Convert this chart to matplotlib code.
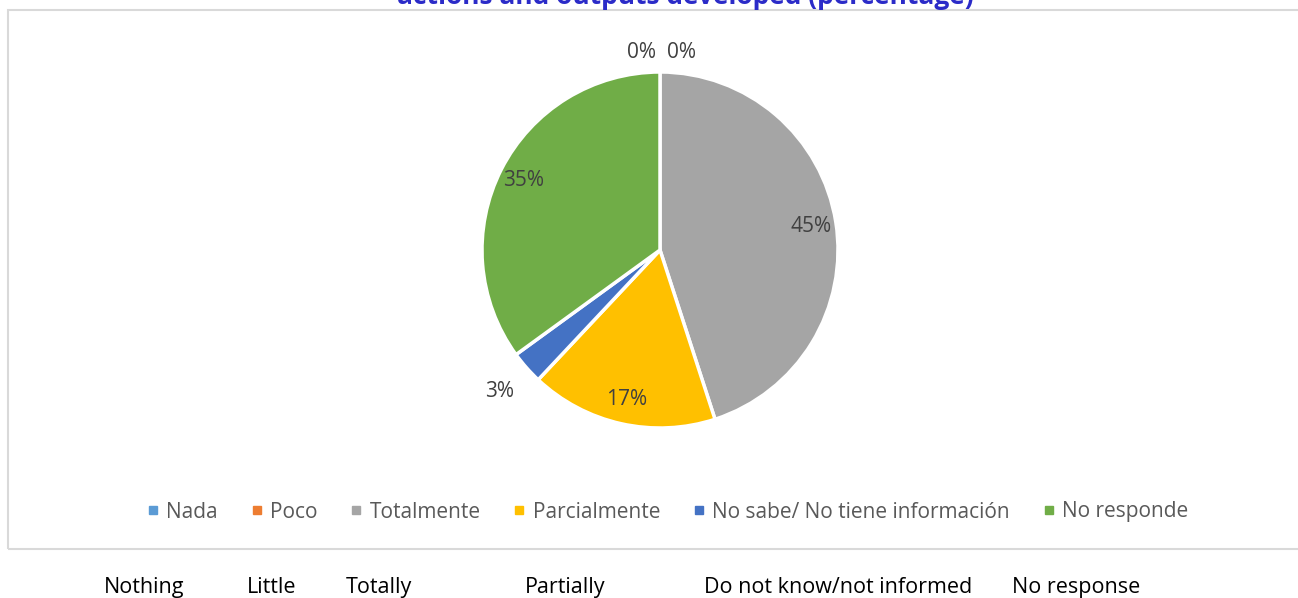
import matplotlib.pyplot as plt
import numpy as np
from matplotlib.patches import Rectangle
from matplotlib.lines import Line2D

plt.rcParams['font.family'] = ['Open Sans', 'DejaVu Sans']

# survey answers (percentage)
categories = ['Nada', 'Poco', 'Totalmente', 'Parcialmente',
              'No sabe/ No tiene información', 'No responde']
english_labels = ['Nothing', 'Little', 'Totally', 'Partially',
                  'Do not know/not informed', 'No response']
values = [0, 0, 45, 17, 3, 35]
colors = ['#5B9BD5', '#ED7D31', '#A5A5A5', '#FFC000', '#4472C4', '#70AD47']
title = 'actions and outputs developed (percentage)'

W, H = 1298, 598
fig = plt.figure(figsize=(W / 100, H / 100), dpi=100)
ax = fig.add_axes([0, 0, 1, 1])

cx, cy, r = 660, H - 250, 178
wedges, _ = ax.pie(values, colors=colors, startangle=90, counterclock=False,
                   center=(cx, cy), radius=r,
                   wedgeprops=dict(edgecolor='white', linewidth=2.5))
ax.set_xlim(0, W)
ax.set_ylim(0, H)
ax.set_aspect('equal')
ax.axis('off')

# data labels: inside near the edge, outside for thin slices
zero_shift = [-18, 22]
k = 0
for w, v in zip(wedges, values):
    ang = np.deg2rad((w.theta1 + w.theta2) / 2)
    if v == 0:
        x = cx + zero_shift[k]
        y = cy + r + 20
        k += 1
    elif v < 5:
        x = cx + 1.2 * r * np.cos(ang)
        y = cy + 1.2 * r * np.sin(ang)
    else:
        x = cx + 0.86 * r * np.cos(ang)
        y = cy + 0.86 * r * np.sin(ang)
    ax.text(x, y, f'{v}%', ha='center', va='center', fontsize=15,
            color='#404040')

# chart frame
fig.patches.append(Rectangle((8 / W, 1 - 549 / H), 1.0, (549 - 10) / H,
                             transform=fig.transFigure, fill=False,
                             edgecolor='#D9D9D9', linewidth=1.5))

fig.text(685 / W, 1 - 4 / H, title, ha='center', va='baseline',
         fontsize=19, fontweight='bold', color='#2B2BC8')

handles = [Line2D([], [], marker='s', linestyle='none', markersize=6,
                  markerfacecolor=c, markeredgecolor=c) for c in colors]
fig.legend(handles, categories, loc='center', bbox_to_anchor=(668 / W, 1 - 512 / H),
           ncol=6, frameon=False, fontsize=15, handlelength=0.5,
           handletextpad=0.4, columnspacing=1.6, labelcolor='#595959')

label_x = [104, 247, 346, 525, 704, 1012]
for x, lab in zip(label_x, english_labels):
    fig.text(x / W, 1 - 593 / H, lab, ha='left', va='baseline', fontsize=15.5,
             color='black')

fig.savefig('out.png', dpi=100)
